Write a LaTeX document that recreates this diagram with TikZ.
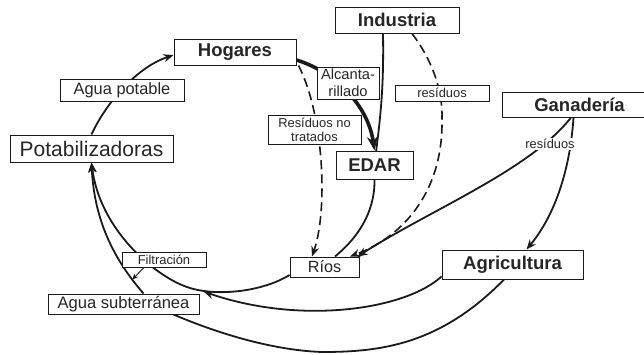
\documentclass[tikz,border=0pt]{standalone}
\usepackage{fontspec}
\setmainfont{Liberation Sans}
\usetikzlibrary{arrows.meta,calc}
\pgfdeclarelayer{bg}
\pgfsetlayers{bg,main}
\definecolor{ink}{HTML}{1A1A1A}
\definecolor{txt}{HTML}{262626}
\begin{document}
\begin{tikzpicture}[x=1pt,y=-1pt,
  box/.style={draw=ink,line width=1pt,fill=white,inner sep=0pt,align=center,text=txt},
  mainbox/.style={box,font=\fontsize{18.5}{20}\selectfont\bfseries},
  lbl/.style={box,font=\fontsize{16.4}{18}\selectfont},
  smallbox/.style={box,font=\fontsize{12.9}{14}\selectfont},
  flow/.style={draw=ink,line width=1.8pt,-{Stealth[length=10pt,width=8pt]}},
  plain/.style={draw=ink,line width=1.8pt},
  dflow/.style={flow,line width=1.6pt,dash pattern=on 9pt off 5pt},
  heavy/.style={draw=ink,line width=3.6pt,-{Stealth[length=14pt,width=11pt]}},
  pointer/.style={draw=ink,line width=0.9pt,-{Stealth[length=6pt,width=5pt]}}
]
\useasboundingbox (0,0) rectangle (644,354);
\clip (0,0) rectangle (644,354);

% nodes
\node[mainbox,minimum width=122pt,minimum height=26pt] (hog) at (235,52) {Hogares};
\node[mainbox,minimum width=124pt,minimum height=26pt] (ind) at (397,20) {Industria};
\node[mainbox,minimum width=155pt,minimum height=25pt] (gan) at (579.5,104.5) {Ganadería};
\node[mainbox,minimum width=77pt,minimum height=28pt] (edar) at (374.5,165) {EDAR};
\node[mainbox,minimum width=141pt,minimum height=29pt] (agri) at (512.5,264.5) {Agricultura};
\node[box,font=\fontsize{21}{23}\selectfont,minimum width=163pt,minimum height=27pt] (pot) at (91.5,148.5) {Potabilizadoras};
\node[lbl,minimum width=124pt,minimum height=22pt] (apot) at (122,90) {Agua potable};
\node[box,font=\fontsize{14.7}{17}\selectfont,minimum width=62pt,minimum height=32pt] (alc) at (348,83) {Alcanta-\\rillado};
\node[smallbox,minimum width=93pt,minimum height=29pt] (rnt) at (314.5,129.5) {Resíduos no\\tratados};
\node[lbl,font=\fontsize{16.2}{18}\selectfont,minimum width=69pt,minimum height=20pt] (rios) at (324.5,267) {Ríos};
\node[smallbox,minimum width=84pt,minimum height=15pt] (filt) at (164,259.5) {Filtración};
\node[lbl,font=\fontsize{16.6}{18}\selectfont,minimum width=151pt,minimum height=20pt] (asub) at (123.5,304) {Agua subterránea};
\node[smallbox,minimum width=94pt,minimum height=16pt] (resi) at (442,93) {resíduos};
\node[fill=white,inner sep=1.5pt,text=txt,font=\fontsize{12.8}{14}\selectfont] (resg) at (550,144) {resíduos};

% connectors
\begin{pgfonlayer}{bg}
\draw[flow] (pot.north) .. controls (105,105) and (135,68) .. ([yshift=-3pt]hog.west);
\draw[plain] ([xshift=-14pt]ind.south) .. controls (384,90) and (380,120) .. ([xshift=1pt,yshift=-6pt]edar.north);
\draw[heavy] ([yshift=-8pt]hog.east) .. controls (335,72) and (368,105) .. (edar.north);
\draw[dflow] ([xshift=2pt]hog.south east) .. controls (324,115) and (328,210) .. ([xshift=-12.5pt]rios.north);
\draw[dflow] ([xshift=15pt]ind.south) .. controls (432,60) and (443,90) .. (442,120) .. controls (443,195) and (400,238) .. ([xshift=25.5pt]rios.north);
\draw[flow] ([xshift=-8.5pt]gan.south) .. controls (530,170) and (430,210) .. ([xshift=33pt]rios.north);
\draw[flow] ([xshift=-6pt]gan.south) .. controls (570,170) and (555,215) .. ([xshift=14pt]agri.north);
\draw[plain] (edar.south) .. controls (375,215) and (355,240) .. ([xshift=10.5pt]rios.north);
\draw[flow] ([yshift=-8pt]rios.west) .. controls (262,292) and (215,297) .. (187,287) .. controls (155,276) and (100,230) .. (pot.south);
\draw[flow] ([xshift=20pt]asub.north) .. controls (110,255) and (94,215) .. coordinate[pos=0.12] (fpt) (pot.south);
\draw[pointer] ([xshift=-20pt]filt.south) -- (fpt);
\draw[flow] ([yshift=-12pt]agri.west) .. controls (405,310) and (300,325) .. ([xshift=4pt,yshift=2pt]asub.north east);
\draw[plain] ([xshift=-8.5pt]agri.south) .. controls (440,345) and (380,352) .. (322,352) .. controls (265,350) and (205,328) .. ([xshift=50pt]asub.south);
\end{pgfonlayer}
\end{tikzpicture}
\end{document}
